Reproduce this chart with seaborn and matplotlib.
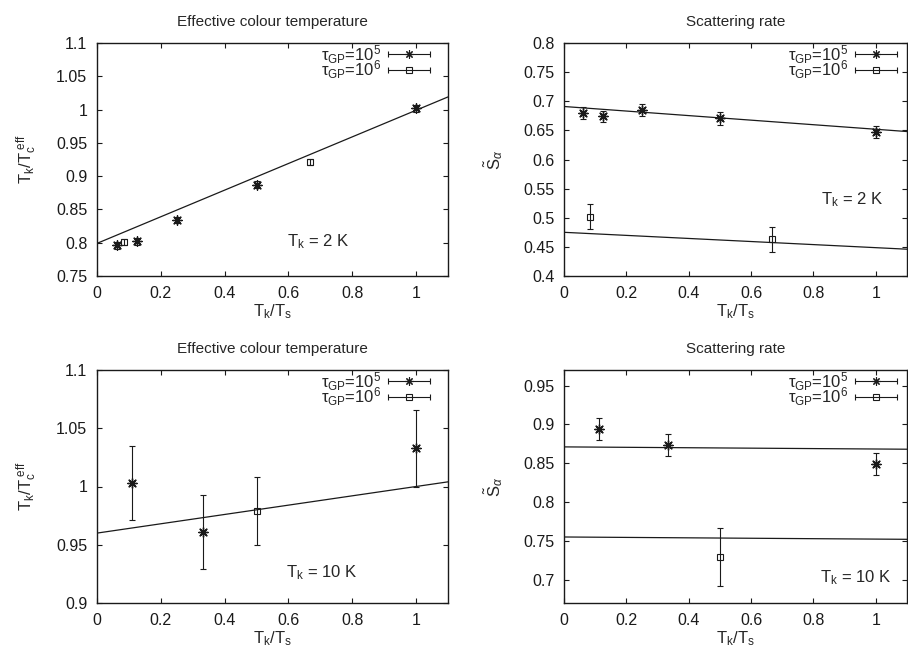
import matplotlib
matplotlib.use('Agg')
import matplotlib.pyplot as plt
from matplotlib.lines import Line2D
from matplotlib.legend_handler import HandlerBase
from matplotlib.ticker import FormatStrFormatter
import seaborn as sns

# Tk = 2 K, effective colour temperature
ct2_x5 = [0.0625, 0.125, 0.25, 0.5, 1.0]
ct2_y5 = [0.796, 0.802, 0.834, 0.887, 1.002]
ct2_e5 = [0.005, 0.005, 0.005, 0.005, 0.005]
ct2_x6 = [0.0833, 0.667]
ct2_y6 = [0.801, 0.921]
ct2_e6 = [0.005, 0.005]
ct2_fit_x = [0.0, 1.1]
ct2_fit_y = [0.799, 1.019]

# Tk = 2 K, scattering rate
sr2_x5 = [0.0625, 0.125, 0.25, 0.5, 1.0]
sr2_y5 = [0.680, 0.674, 0.685, 0.671, 0.647]
sr2_e5 = [0.010, 0.010, 0.011, 0.011, 0.010]
sr2_x6 = [0.0833, 0.667]
sr2_y6 = [0.502, 0.463]
sr2_e6 = [0.021, 0.021]
sr2_fit5_x = [0.0, 1.1]
sr2_fit5_y = [0.691, 0.648]
sr2_fit6_x = [0.0, 1.1]
sr2_fit6_y = [0.475, 0.446]

# Tk = 10 K, effective colour temperature
ct10_x5 = [0.111, 0.333, 1.0]
ct10_y5 = [1.003, 0.961, 1.033]
ct10_e5 = [0.032, 0.032, 0.033]
ct10_x6 = [0.5]
ct10_y6 = [0.979]
ct10_e6 = [0.029]
ct10_fit_x = [0.0, 1.1]
ct10_fit_y = [0.960, 1.004]

# Tk = 10 K, scattering rate
sr10_x5 = [0.111, 0.333, 1.0]
sr10_y5 = [0.894, 0.873, 0.849]
sr10_e5 = [0.014, 0.014, 0.014]
sr10_x6 = [0.5]
sr10_y6 = [0.729]
sr10_e6 = [0.037]
sr10_fit5_x = [0.0, 1.1]
sr10_fit5_y = [0.871, 0.868]
sr10_fit6_x = [0.0, 1.1]
sr10_fit6_y = [0.755, 0.752]

sns.set_theme(style='ticks')
plt.rcParams['font.family'] = ['Liberation Sans', 'DejaVu Sans']
plt.rcParams['mathtext.fontset'] = 'custom'
plt.rcParams['mathtext.rm'] = 'Liberation Sans'
plt.rcParams['mathtext.it'] = 'Liberation Sans:italic'
plt.rcParams['mathtext.bf'] = 'Liberation Sans:bold'

STAR = (8, 2, 0)
lab5 = r'τ$_{\mathrm{GP}}$=10$^5$'
lab6 = r'τ$_{\mathrm{GP}}$=10$^6$'


class ErrHandler(HandlerBase):
    # gnuplot-like key sample: horizontal bar with end caps and marker in the middle
    def create_artists(self, legend, orig_handle, xdescent, ydescent,
                       width, height, fontsize, trans):
        y = height / 2 - ydescent
        x0, x1 = -xdescent, width - xdescent
        bar = Line2D([x0, x1], [y, y], color='k', lw=0.8, transform=trans)
        caps = Line2D([x0, x1], [y, y], ls='none', marker='|', ms=4,
                      mew=0.8, color='k', transform=trans)
        mk = Line2D([(x0 + x1) / 2], [y], ls='none',
                    marker=orig_handle.get_marker(),
                    ms=orig_handle.get_markersize(), mew=0.8,
                    mfc=orig_handle.get_markerfacecolor(), mec='k',
                    transform=trans)
        return [bar, caps, mk]


def points(ax, x, y, e, square):
    if square:
        ax.errorbar(x, y, yerr=e, fmt='s', ms=4, mfc='none', mec='k',
                    mew=0.8, ecolor='k', elinewidth=0.8, capsize=2,
                    capthick=0.8, zorder=3)
    else:
        ax.errorbar(x, y, yerr=e, fmt='none', ecolor='k', elinewidth=0.8,
                    capsize=2, capthick=0.8, zorder=3)
        sns.scatterplot(x=x, y=y, ax=ax, marker=STAR, s=45, color='k',
                        linewidth=1.0, zorder=4)


def fitline(ax, x, y):
    sns.lineplot(x=x, y=y, ax=ax, color='k', lw=0.9, zorder=2)


def style(ax, ylim, yticks, ylabel, title, note, note_xy, w, leg_x):
    ax.set_xlim(0, 1.1)
    ax.set_ylim(*ylim)
    ax.set_xticks([0, 0.2, 0.4, 0.6, 0.8, 1.0])
    ax.set_yticks(yticks)
    ax.xaxis.set_major_formatter(FormatStrFormatter('%g'))
    ax.yaxis.set_major_formatter(FormatStrFormatter('%g'))
    ax.tick_params(direction='in', length=3.6, width=0.8, top=True,
                   right=True, labelsize=11.5, pad=7, colors='k')
    for s in ax.spines.values():
        s.set_visible(True)
        s.set_linewidth(1.0)
        s.set_color('k')
    ax.set_title(title, fontsize=11, pad=12)
    ax.set_xlabel(r'$\mathrm{T_k/T_s}$', fontsize=12, va='center')
    ax.xaxis.set_label_coords(0.5, -36 / 233)
    ax.set_ylabel(ylabel, fontsize=12, va='center')
    ax.yaxis.set_label_coords(-70 / w, 0.5)
    ax.text(note_xy[0], note_xy[1], note, transform=ax.transAxes,
            ha='center', va='center', fontsize=12)
    h5 = Line2D([], [], marker=STAR, ms=6, color='k', mfc='k')
    h6 = Line2D([], [], marker='s', ms=4, color='k', mfc='none')
    ax.legend([h5, h6], [lab5, lab6], loc='upper right', frameon=False,
              markerfirst=False, handlelength=2.5, handletextpad=0.42,
              labelspacing=-0.45, fontsize=12, borderaxespad=0.0,
              borderpad=0.0, handler_map={Line2D: ErrHandler()},
              bbox_to_anchor=(leg_x, 1.0))


fig = plt.figure(figsize=(9.08, 6.52), dpi=100)
W, H = 908, 652
axTL = fig.add_axes([97 / W, (H - 276) / H, 351 / W, 233 / H])
axTR = fig.add_axes([564 / W, (H - 276) / H, 343 / W, 233 / H])
axBL = fig.add_axes([97 / W, (H - 603) / H, 351 / W, 233 / H])
axBR = fig.add_axes([564 / W, (H - 603) / H, 343 / W, 233 / H])

ylab_ct = r'$\mathrm{T_k/T_c^{\ eff}}$'
ylab_sr = r'$\tilde{\mathrm{S}}_{\alpha}$'

# top left
fitline(axTL, ct2_fit_x, ct2_fit_y)
points(axTL, ct2_x5, ct2_y5, ct2_e5, False)
points(axTL, ct2_x6, ct2_y6, ct2_e6, True)
style(axTL, (0.75, 1.1), [0.75, 0.8, 0.85, 0.9, 0.95, 1.0, 1.05, 1.1],
      ylab_ct, 'Effective colour temperature', r'$\mathrm{T_k}$ = 2 K',
      (0.63, 0.146), 351, 1 - 18 / 351)

# top right
fitline(axTR, sr2_fit5_x, sr2_fit5_y)
fitline(axTR, sr2_fit6_x, sr2_fit6_y)
points(axTR, sr2_x5, sr2_y5, sr2_e5, False)
points(axTR, sr2_x6, sr2_y6, sr2_e6, True)
style(axTR, (0.4, 0.8), [0.4, 0.45, 0.5, 0.55, 0.6, 0.65, 0.7, 0.75, 0.8],
      ylab_sr, 'Scattering rate', r'$\mathrm{T_k}$ = 2 K',
      (0.84, 0.326), 343, 1 - 10 / 343)

# bottom left
fitline(axBL, ct10_fit_x, ct10_fit_y)
points(axBL, ct10_x5, ct10_y5, ct10_e5, False)
points(axBL, ct10_x6, ct10_y6, ct10_e6, True)
style(axBL, (0.9, 1.1), [0.9, 0.95, 1.0, 1.05, 1.1],
      ylab_ct, 'Effective colour temperature', r'$\mathrm{T_k}$ = 10 K',
      (0.64, 0.129), 351, 1 - 18 / 351)

# bottom right
fitline(axBR, sr10_fit5_x, sr10_fit5_y)
fitline(axBR, sr10_fit6_x, sr10_fit6_y)
points(axBR, sr10_x5, sr10_y5, sr10_e5, False)
points(axBR, sr10_x6, sr10_y6, sr10_e6, True)
style(axBR, (0.67, 0.97), [0.7, 0.75, 0.8, 0.85, 0.9, 0.95],
      ylab_sr, 'Scattering rate', r'$\mathrm{T_k}$ = 10 K',
      (0.85, 0.107), 343, 1 - 10 / 343)

fig.savefig('out.png', dpi=100)
